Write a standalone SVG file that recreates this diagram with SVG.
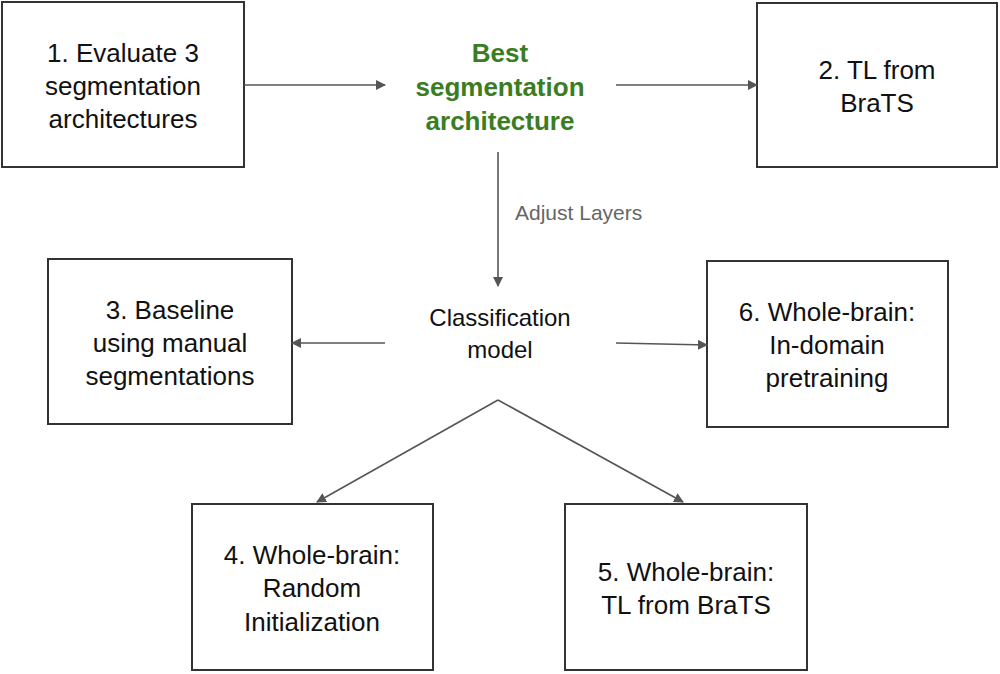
<svg xmlns="http://www.w3.org/2000/svg" width="1000" height="674" viewBox="0 0 1000 674">
<defs>
<marker id="ah" markerWidth="10" markerHeight="10" refX="9" refY="5" orient="auto" markerUnits="userSpaceOnUse" viewBox="0 0 10 10"><path d="M0,0 L10,5 L0,10 z" fill="#555"/></marker>
<style>
.box{fill:#fff;stroke:#333;stroke-width:2}
.t{font-family:"Liberation Sans",Arial,sans-serif;font-size:26px;fill:#111;text-anchor:middle}
.c{stroke:#555;stroke-width:1.6;fill:none;marker-end:url(#ah)}
</style>
</defs>
<rect width="1000" height="674" fill="#fff"/>
<g id="n1"><rect class="box" x="2" y="2" width="242" height="165"/><text class="t" x="123" y="62">1. Evaluate 3</text><text class="t" x="123" y="95">segmentation</text><text class="t" x="123" y="128">architectures</text></g>
<g id="best"><text class="t" x="500" y="62" style="fill:#3a7d22;font-weight:bold">Best</text><text class="t" x="500" y="96" style="fill:#3a7d22;font-weight:bold">segmentation</text><text class="t" x="500" y="130" style="fill:#3a7d22;font-weight:bold">architecture</text></g>
<g id="n2"><rect class="box" x="757" y="3" width="240" height="164"/><text class="t" x="877" y="79">2. TL from</text><text class="t" x="877" y="112">BraTS</text></g>
<g id="cls"><text class="t" x="500" y="326" style="font-size:24px">Classification</text><text class="t" x="500" y="358" style="font-size:24px">model</text></g>
<g id="n3"><rect class="box" x="48" y="259" width="244" height="165"/><text class="t" x="170" y="319">3. Baseline</text><text class="t" x="170" y="352">using manual</text><text class="t" x="170" y="385">segmentations</text></g>
<g id="n6"><rect class="box" x="707" y="261" width="241" height="166"/><text class="t" x="827" y="321">6. Whole-brain:</text><text class="t" x="827" y="354">In-domain</text><text class="t" x="827" y="387">pretraining</text></g>
<g id="n4"><rect class="box" x="192" y="504" width="241" height="166"/><text class="t" x="312" y="564">4. Whole-brain:</text><text class="t" x="312" y="597">Random</text><text class="t" x="312" y="631">Initialization</text></g>
<g id="n5"><rect class="box" x="565" y="504" width="242" height="166"/><text class="t" x="686" y="581">5. Whole-brain:</text><text class="t" x="686" y="614">TL from BraTS</text></g>
<g id="connectors">
<line class="c" x1="244" y1="85" x2="385" y2="85"/>
<line class="c" x1="616" y1="85" x2="757" y2="85"/>
<line class="c" x1="498" y1="152" x2="498" y2="286"/>
<text x="515" y="220" style="font-family:'Liberation Sans',Arial,sans-serif;font-size:21px;fill:#666">Adjust Layers</text>
<line class="c" x1="385" y1="343" x2="292" y2="343"/>
<line class="c" x1="616" y1="343" x2="707" y2="345"/>
<path class="c" d="M498,400 L317,502"/>
<path class="c" d="M498,400 L683,502"/>
</g>
</svg>
